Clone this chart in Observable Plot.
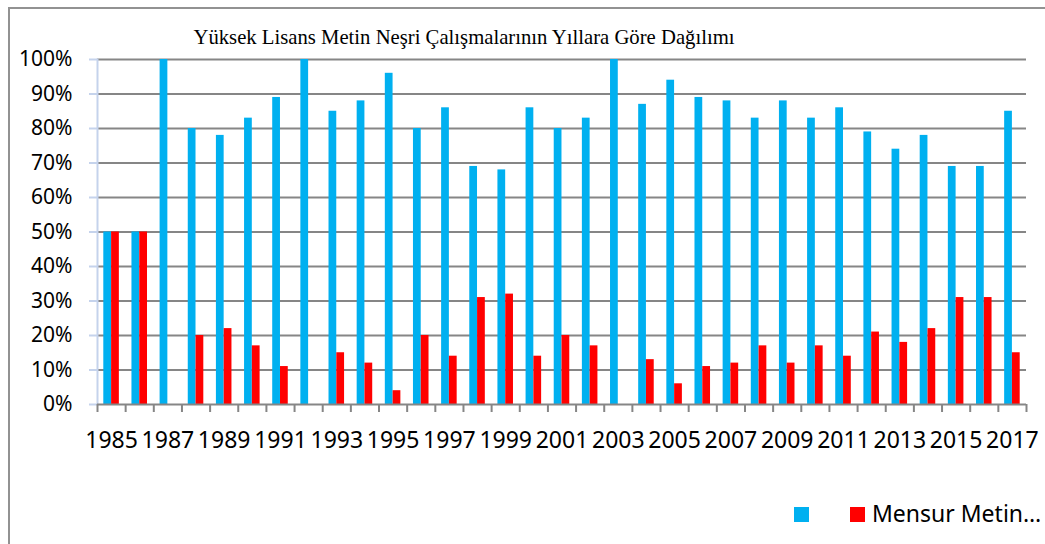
<!DOCTYPE html>
<html>
<head>
<meta charset="utf-8">
<script src="https://cdn.jsdelivr.net/npm/d3@7"></script>
<script src="https://cdn.jsdelivr.net/npm/@observablehq/plot@0.6"></script>
<style>
  html, body { margin: 0; padding: 0; background: #fff; overflow: hidden; }
  #wrap { position: relative; width: 1045px; height: 544px; overflow: hidden; }
  #border { position: absolute; left: 8px; top: 7px; width: 1100px; height: 600px;
            border-left: 2px solid #929292; border-top: 2px solid #929292; pointer-events: none; }
  #title { position: absolute; left: 0; top: 22px; width: 928px; height: 30px;
           font-family: "Liberation Serif", "Times New Roman", serif; font-size: 20.7px;
           text-align: center; line-height: 30px; color: #000; white-space: nowrap; }
  #chart { position: absolute; left: 0; top: 42px; }
  #legend { position: absolute; left: 0; top: 470px; width: 1045px; height: 74px;
            font-family: "Noto Sans", sans-serif; font-size: 23px; color: #000; }
  .sw { position: absolute; width: 15px; height: 15px; top: 37px; }
  .lt { position: absolute; top: 26px; white-space: nowrap; line-height: 34px; }
</style>
</head>
<body>
<div id="wrap">
  <div id="border"></div>
  <div id="title">Yüksek Lisans Metin Neşri Çalışmalarının Yıllara Göre Dağılımı</div>
  <div id="chart"></div>
  <div id="legend"></div>
</div>
<script>
const years = [1985,1986,1987,1988,1989,1990,1991,1992,1993,1994,1995,1996,1997,1998,1999,2000,2001,2002,2003,2004,2005,2006,2007,2008,2009,2010,2011,2012,2013,2014,2015,2016,2017];
const blueValues = [50,50,100,80,78,83,89,100,85,88,96,80,86,69,68,86,80,83,100,87,94,89,88,83,88,83,86,79,74,78,69,69,85];
const redValues  = [50,50,0,20,22,17,11,0,15,12,4,20,14,31,32,14,20,17,0,13,6,11,12,17,12,17,14,21,18,22,31,31,15];
const seriesNames = ["", "Mensur Metin…"];
const seriesColors = ["#00B0F0", "#FF0000"];
const yTickValues = [0,0.1,0.2,0.3,0.4,0.5,0.6,0.7,0.8,0.9,1];
const labelYears = years.filter((y, i) => i % 2 === 0);

const rows = years.map((year, i) => ({year, blue: blueValues[i] / 100, red: redValues[i] / 100}));
const boundaries = years.map(y => y - 0.5).concat([years[years.length - 1] + 0.5]);

const chart = Plot.plot({
  width: 1045,
  height: 428,
  marginTop: 17,
  marginBottom: 66,
  marginLeft: 97,
  marginRight: 19,
  style: {fontFamily: "'Noto Sans', sans-serif", color: "#000", background: "transparent"},
  x: {type: "linear", domain: [boundaries[0], boundaries[boundaries.length - 1]]},
  y: {domain: [0, 1]},
  marks: [
    Plot.gridY(yTickValues.filter(v => v > 0), {stroke: "#868686", strokeOpacity: 1, strokeWidth: 2}),
    Plot.rectY(rows, {x1: d => d.year - 0.5, x2: d => d.year + 0.5, y1: 0, y2: "blue", fill: seriesColors[0], insetLeft: 6.3, insetRight: 14.1}),
    Plot.rectY(rows.filter(d => d.red > 0), {x1: d => d.year - 0.5, x2: d => d.year + 0.5, y1: 0, y2: "red", fill: seriesColors[1], insetLeft: 14.1, insetRight: 6.3}),
    Plot.frame({anchor: "left", stroke: "#c5d3ec", strokeWidth: 2}),
    Plot.axisY({ticks: yTickValues, tickSize: 8, text: null, stroke: "#c5d3ec", strokeWidth: 2, strokeOpacity: 1, label: null}),
    Plot.axisY({ticks: yTickValues, tickSize: 0, tickPadding: 25, tickFormat: d3.format(".0%"), fontSize: 21, fill: "#000", label: null}),
    Plot.ruleY([0], {stroke: "#868686", strokeWidth: 2}),
    Plot.axisX({ticks: boundaries, tickSize: 8, text: null, stroke: "#868686", strokeWidth: 2, strokeOpacity: 1, label: null}),
    Plot.axisX({ticks: labelYears, tickSize: 0, tickPadding: 27, tickFormat: d => String(d), fontSize: 23, fill: "#000", label: null})
  ]
});
document.getElementById("chart").appendChild(chart);

const legend = document.getElementById("legend");
const swLeft = [794, 850];
seriesNames.forEach((name, i) => {
  const sw = document.createElement("div");
  sw.className = "sw";
  sw.style.left = swLeft[i] + "px";
  sw.style.background = seriesColors[i];
  legend.appendChild(sw);
  if (name) {
    const t = document.createElement("div");
    t.className = "lt";
    t.style.left = (swLeft[i] + 22) + "px";
    t.textContent = name;
    legend.appendChild(t);
  }
});
</script>
</body>
</html>
